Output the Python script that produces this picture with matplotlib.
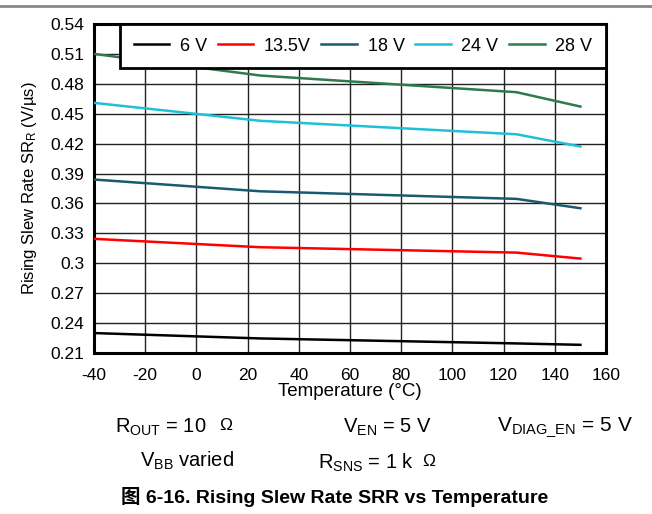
import matplotlib
matplotlib.use("Agg")
import matplotlib.pyplot as plt
from matplotlib.lines import Line2D

plt.rcParams['font.family'] = ['Liberation Sans', 'Noto Sans CJK SC', 'DejaVu Sans']
plt.rcParams['mathtext.fontset'] = 'custom'
plt.rcParams['mathtext.rm'] = 'Liberation Sans'
plt.rcParams['mathtext.it'] = 'Liberation Sans'
plt.rcParams['axes.unicode_minus'] = False

temps = [-40, 25, 125, 150]
series_names = ["6 V", "13.5V", "18 V", "24 V", "28 V"]
v6 = [0.2300, 0.2246, 0.2196, 0.2182]
v13_5 = [0.3245, 0.3161, 0.3107, 0.3047]
v18 = [0.3840, 0.3722, 0.3646, 0.3552]
v24 = [0.4609, 0.4429, 0.4294, 0.4171]
v28 = [0.5100, 0.4883, 0.4716, 0.4572]
series_values = [v6, v13_5, v18, v24, v28]
colors = ["#000000", "#ff0000", "#1a5a6e", "#1ec0d6", "#2e7a4e"]

xticks = [-40, -20, 0, 20, 40, 60, 80, 100, 120, 140, 160]
yticks = [0.21, 0.24, 0.27, 0.30, 0.33, 0.36, 0.39, 0.42, 0.45, 0.48, 0.51, 0.54]
ytick_labels = ["0.21", "0.24", "0.27", "0.3", "0.33", "0.36", "0.39", "0.42", "0.45", "0.48", "0.51", "0.54"]

fig = plt.figure(figsize=(6.52, 5.14), dpi=100)
ax = fig.add_axes([94/652, 1-353/514, 512/652, 329/514])

for name, vals, c in zip(series_names, series_values, colors):
    ax.plot(temps, vals, color=c, lw=1.8, label=name, zorder=3)

ax.set_xlim(-40, 160)
ax.set_ylim(0.21, 0.54)
ax.set_xticks(xticks)
ax.set_yticks(yticks)
ax.set_yticklabels(ytick_labels)
ax.tick_params(axis='both', length=0, labelsize=12.5, colors='black')
ax.tick_params(axis='x', pad=11)
ax.tick_params(axis='y', pad=7)
ax.grid(True, color='#222222', lw=1.0)
ax.set_axisbelow(True)
for s in ax.spines.values():
    s.set_linewidth(2.2)
    s.set_color('black')

ax.set_xlabel("Temperature (°C)", fontsize=13.5, labelpad=0)
ax.set_ylabel(r"Rising Slew Rate SR$_\mathregular{R}$ (V/µs)", fontsize=12, labelpad=8)

leg = ax.legend(loc='upper left', bbox_to_anchor=(26/512, 1.0, 486/512, 0), mode='expand',
                ncol=5, fontsize=13, frameon=True, fancybox=False, borderaxespad=0.0,
                handlelength=1.95, handletextpad=0.6, columnspacing=0.8, borderpad=0.75)
leg.get_frame().set_edgecolor('black')
leg.get_frame().set_linewidth(2.0)
leg.get_frame().set_alpha(1)

# top separator line
fig.add_artist(Line2D([0, 1], [1-6/514, 1-6/514], color='#888888', lw=2.0))

fs = 14.5
fig.text(115/652, 1-427/514, r"$\mathregular{R_{OUT}}$ = 10  ", fontsize=fs, ha='left', va='center')
fig.text(219/652, 1-426/514, "Ω", fontsize=12.5, ha='left', va='center')
fig.text(343/652, 1-427/514, r"$\mathregular{V_{EN}}$ = 5 V", fontsize=fs, ha='left', va='center')
fig.text(497/652, 1-427/514, r"$\mathregular{V_{DIAG\_EN}}$ = 5 V", fontsize=15, ha='left', va='center')
fig.text(140/652, 1-461/514, r"$\mathregular{V_{BB}}$ varied", fontsize=fs, ha='left', va='center')
fig.text(318/652, 1-463/514, r"$\mathregular{R_{SNS}}$ = 1 k", fontsize=fs, ha='left', va='center')
fig.text(422/652, 1-462/514, "Ω", fontsize=12.5, ha='left', va='center')
fig.text(335/652, 1-497/514, "图 6-16. Rising Slew Rate SRR vs Temperature", fontsize=14,
         fontweight='bold', ha='center', va='center')

fig.savefig("out.png", dpi=100)
